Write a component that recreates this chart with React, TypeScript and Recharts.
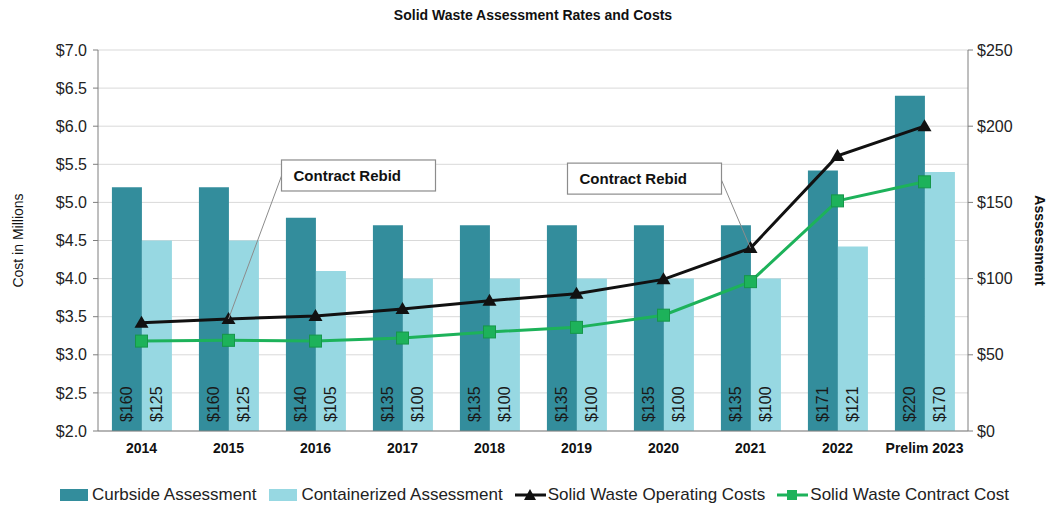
import {
    Bar,
    CartesianGrid,
    ComposedChart,
    LabelList,
    Legend,
    Line,
    XAxis,
    YAxis,
} from "recharts";

const categories = ["2014", "2015", "2016", "2017", "2018", "2019", "2020", "2021", "2022", "Prelim 2023"];
const curbside = [160, 160, 140, 135, 135, 135, 135, 135, 171, 220];
const containerized = [125, 125, 105, 100, 100, 100, 100, 100, 121, 170];
const operatingCosts = [3.42, 3.47, 3.51, 3.6, 3.71, 3.8, 3.99, 4.4, 5.61, 6.0];
const contractCost = [3.18, 3.19, 3.18, 3.22, 3.3, 3.36, 3.52, 3.96, 5.02, 5.27];
const leftTicks = [2, 2.5, 3, 3.5, 4, 4.5, 5, 5.5, 6, 6.5, 7];
const rightTicks = [0, 50, 100, 150, 200, 250];

const data = categories.map((year, i) => ({
    year,
    curbside: curbside[i],
    containerized: containerized[i],
    operating: operatingCosts[i],
    contract: contractCost[i],
}));

const TEAL = "#338d9c";
const LIGHT = "#97d8e2";
const GREEN = "#1db25a";
const FONT = "'Liberation Sans', Arial, sans-serif";

const BarValue = (props: any) => {
    const { x, y, width, height, value } = props;
    const cx = x + width / 2;
    const by = y + height - 9;
    return (
        <text
            x={cx}
            y={by}
            transform={`rotate(-90 ${cx} ${by})`}
            textAnchor="start"
            dominantBaseline="central"
            fontSize={16}
            fontFamily={FONT}
            fill="#1a1a1a"
        >
            ${value}
        </text>
    );
};

const Triangle = (props: any) => {
    const { cx, cy } = props;
    if (cx == null || cy == null) return null;
    return <path d={`M${cx},${cy - 7} L${cx + 7},${cy + 5} L${cx - 7},${cy + 5} Z`} fill="#111" />;
};

const Square = (props: any) => {
    const { cx, cy } = props;
    if (cx == null || cy == null) return null;
    return <rect x={cx - 6} y={cy - 6} width={12} height={12} fill={GREEN} stroke="#16964a" strokeWidth={1} />;
};

const Callout = (props: any) => {
    const { x, y, index } = props;
    let lx = 0, ly = 0, bx = 0, by = 0;
    if (index === 1) {
        lx = 53; ly = -143; bx = 53; by = -159;
    } else if (index === 7) {
        lx = -29; ly = -68; bx = -183; by = -85;
    } else {
        return null;
    }
    return (
        <g>
            <line x1={x} y1={y} x2={x + lx} y2={y + ly} stroke="#8c8c8c" strokeWidth={1} />
            <rect x={x + bx} y={y + by} width={154} height={31} fill="#fff" stroke="#8c8c8c" strokeWidth={1.2} />
            <text x={x + bx + 12} y={y + by + 21} fontSize={15} fontWeight="bold" fontFamily={FONT} fill="#111">
                Contract Rebid
            </text>
        </g>
    );
};

const legendItems = [
    { label: "Curbside Assessment", kind: "bar", color: TEAL },
    { label: "Containerized Assessment", kind: "bar", color: LIGHT },
    { label: "Solid Waste Operating Costs", kind: "tri", color: "#111" },
    { label: "Solid Waste Contract Cost", kind: "sq", color: GREEN },
];

const LegendContent = () => (
    <div style={{ display: "flex", justifyContent: "center", fontFamily: FONT, fontSize: 17, color: "#222", paddingLeft: 30 }}>
        {legendItems.map((it) => (
            <div key={it.label} style={{ display: "flex", alignItems: "center", marginRight: 12 }}>
                <svg width={31} height={16} style={{ marginRight: 2 }}>
                    {it.kind === "bar" && <rect x={1} y={2} width={28} height={12} fill={it.color} />}
                    {it.kind === "tri" && (
                        <g>
                            <line x1={0} y1={8} x2={31} y2={8} stroke={it.color} strokeWidth={3} />
                            <path d="M15,2 L21,13 L9,13 Z" fill={it.color} />
                        </g>
                    )}
                    {it.kind === "sq" && (
                        <g>
                            <line x1={0} y1={8} x2={31} y2={8} stroke={it.color} strokeWidth={3} />
                            <rect x={10} y={3} width={10} height={10} fill={it.color} />
                        </g>
                    )}
                </svg>
                <span>{it.label}</span>
            </div>
        ))}
    </div>
);

const App = () => {
    return (
        <div style={{ position: "absolute", left: 0, top: 0, width: 1050, height: 508, background: "#fff" }}>
            <div
                style={{
                    position: "absolute",
                    top: 7,
                    left: 0,
                    width: 1066,
                    textAlign: "center",
                    fontFamily: FONT,
                    fontWeight: "bold",
                    fontSize: 14,
                    color: "#111",
                }}
            >
                Solid Waste Assessment Rates and Costs
            </div>
            <ComposedChart
                width={1050}
                height={508}
                data={data}
                margin={{ top: 50, right: 10, left: 10, bottom: 47 }}
                barCategoryGap="16%"
                barGap={0}
            >
                <CartesianGrid yAxisId="left" vertical={false} stroke="#d9d9d9" />
                <XAxis
                    dataKey="year"
                    height={30}
                    tickLine={false}
                    axisLine={{ stroke: "#7f7f7f" }}
                    tick={{ fontSize: 14, fontWeight: "bold", fill: "#111", fontFamily: FONT }}
                    tickMargin={6}
                    interval={0}
                />
                <YAxis
                    yAxisId="left"
                    domain={[2, 7]}
                    ticks={leftTicks}
                    width={88}
                    tickFormatter={(v: number) => `$${v.toFixed(1)}`}
                    axisLine={{ stroke: "#7f7f7f" }}
                    tickLine={{ stroke: "#7f7f7f" }}
                    tickSize={5}
                    tickMargin={6}
                    tick={{ fontSize: 16, fill: "#222", fontFamily: FONT }}
                    label={{
                        value: "Cost in Millions",
                        angle: -90,
                        position: "insideLeft",
                        offset: 8,
                        style: { fontSize: 14, fill: "#111", fontFamily: FONT, textAnchor: "middle" },
                    }}
                />
                <YAxis
                    yAxisId="right"
                    orientation="right"
                    domain={[0, 250]}
                    ticks={rightTicks}
                    width={72}
                    tickFormatter={(v: number) => `$${v}`}
                    axisLine={{ stroke: "#7f7f7f" }}
                    tickLine={{ stroke: "#7f7f7f" }}
                    tickSize={5}
                    tickMargin={4}
                    tick={{ fontSize: 16, fill: "#222", fontFamily: FONT }}
                    label={{
                        value: "Asssessment",
                        angle: 90,
                        position: "insideRight",
                        offset: 0,
                        style: { fontSize: 14, fontWeight: "bold", fill: "#111", fontFamily: FONT, textAnchor: "middle" },
                    }}
                />
                <Bar yAxisId="right" dataKey="curbside" fill={TEAL} isAnimationActive={false}>
                    <LabelList dataKey="curbside" content={BarValue} />
                </Bar>
                <Bar yAxisId="right" dataKey="containerized" fill={LIGHT} isAnimationActive={false}>
                    <LabelList dataKey="containerized" content={BarValue} />
                </Bar>
                <Line
                    yAxisId="left"
                    type="linear"
                    dataKey="operating"
                    stroke="#111"
                    strokeWidth={3}
                    dot={Triangle}
                    activeDot={false}
                    isAnimationActive={false}
                >
                    <LabelList dataKey="operating" content={Callout} />
                </Line>
                <Line
                    yAxisId="left"
                    type="linear"
                    dataKey="contract"
                    stroke={GREEN}
                    strokeWidth={3}
                    dot={Square}
                    activeDot={false}
                    isAnimationActive={false}
                />
                <Legend
                    verticalAlign="middle"
                    align="center"
                    content={LegendContent}
                    wrapperStyle={{ top: 485, left: 0, width: 1050 }}
                />
            </ComposedChart>
        </div>
    );
};

export default App;
